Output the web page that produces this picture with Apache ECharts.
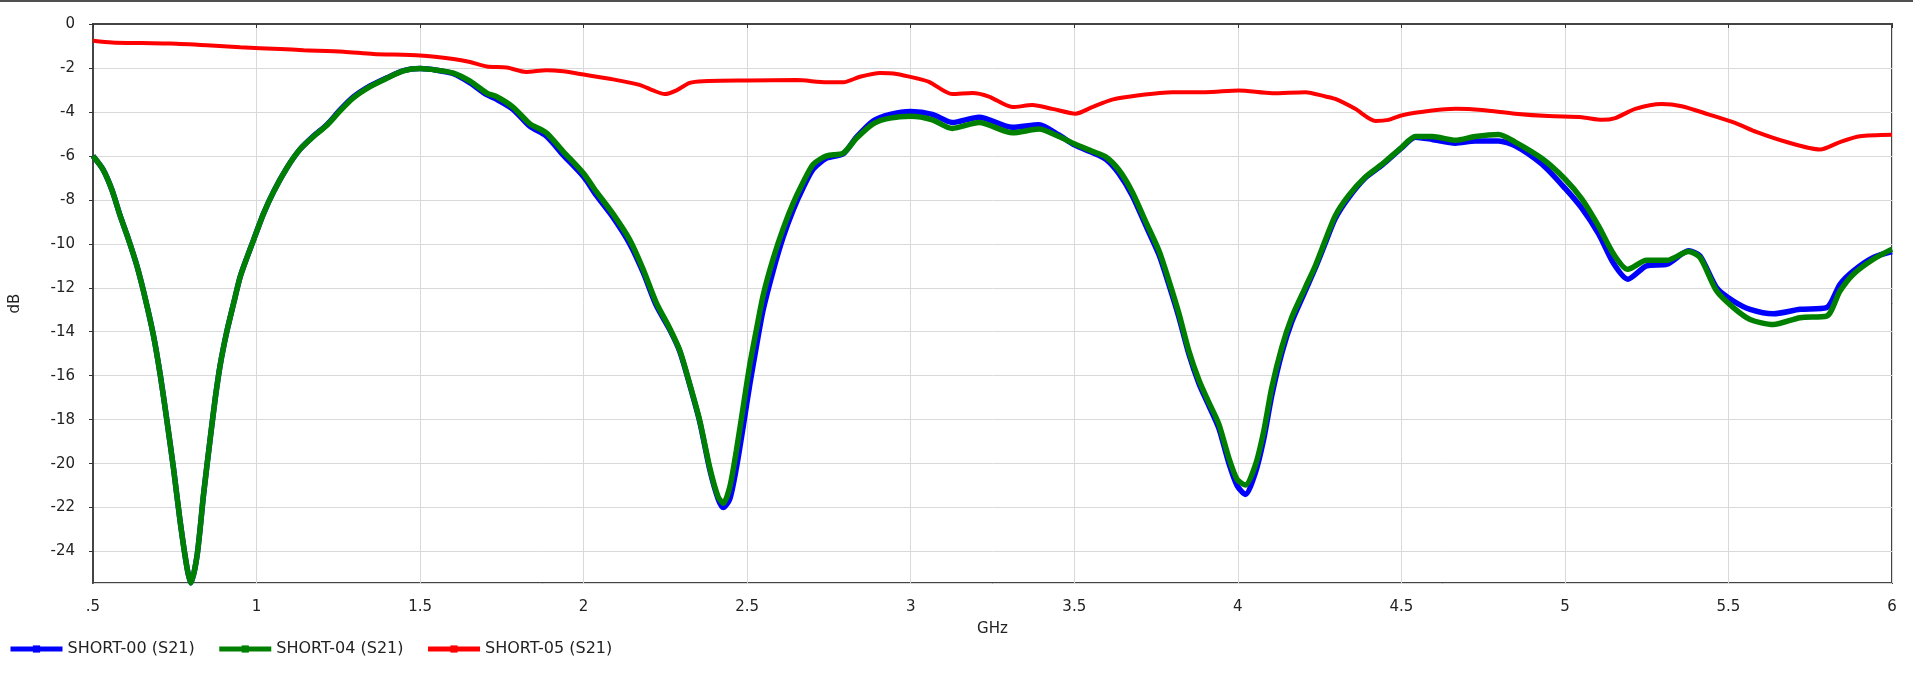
<!DOCTYPE html>
<html>
<head>
<meta charset="utf-8">
<script src="https://cdn.jsdelivr.net/npm/echarts@6/dist/echarts.min.js"></script>
<style>
html,body{margin:0;padding:0;background:#fff;}
#chart{width:1913px;height:678px;}
#topline{position:absolute;left:0;top:0;width:1913px;height:2px;background:#505050;z-index:10;}
</style>
</head>
<body>
<div id="topline"></div>
<div id="chart"></div>
<script>
// ---- data ----
const seriesNames = ['SHORT-00 (S21)', 'SHORT-04 (S21)', 'SHORT-05 (S21)'];

const freqAB = [0.500,0.530,0.558,0.583,0.609,0.634,0.660,0.685,0.706,0.726,0.746,0.767,0.787,0.799,0.818,0.838,0.858,0.874,0.889,0.909,0.930,0.950,0.970,0.991,1.021,1.052,1.093,1.133,1.174,1.215,1.256,1.296,1.347,1.398,1.449,1.500,1.551,1.602,1.653,1.704,1.733,1.784,1.835,1.886,1.937,2.000,2.039,2.090,2.141,2.182,2.222,2.263,2.294,2.324,2.355,2.386,2.411,2.427,2.447,2.467,2.488,2.508,2.529,2.549,2.580,2.610,2.641,2.671,2.702,2.743,2.794,2.834,2.886,2.937,3.000,3.066,3.127,3.209,3.311,3.392,3.453,3.500,3.555,3.596,3.636,3.677,3.718,3.759,3.789,3.820,3.850,3.881,3.911,3.942,3.972,3.998,4.023,4.054,4.079,4.104,4.135,4.165,4.206,4.237,4.268,4.298,4.339,4.390,4.441,4.500,4.543,4.594,4.665,4.726,4.797,4.848,4.930,5.000,5.052,5.103,5.149,5.192,5.250,5.312,5.378,5.413,5.464,5.515,5.566,5.637,5.719,5.800,5.841,5.882,5.943,6.000];

const short00 = [-6.0,-6.6,-7.55,-8.72,-9.82,-10.99,-12.5,-14.18,-16.0,-18.04,-20.2,-22.7,-24.7,-25.43,-24.2,-21.4,-18.9,-17.0,-15.5,-14.0,-12.7,-11.5,-10.65,-9.82,-8.64,-7.63,-6.54,-5.7,-5.1,-4.58,-3.9,-3.32,-2.82,-2.45,-2.12,-2.03,-2.1,-2.26,-2.68,-3.22,-3.42,-3.88,-4.65,-5.1,-5.95,-6.95,-7.8,-8.8,-10.0,-11.3,-12.8,-13.9,-14.9,-16.4,-18.1,-20.3,-21.6,-22.0,-21.6,-20.2,-18.3,-16.4,-14.6,-13.0,-11.2,-9.7,-8.45,-7.45,-6.6,-6.1,-5.9,-5.15,-4.4,-4.11,-3.98,-4.11,-4.48,-4.24,-4.7,-4.58,-5.05,-5.5,-5.85,-6.15,-6.8,-7.8,-9.15,-10.5,-11.85,-13.35,-15.0,-16.35,-17.35,-18.4,-19.95,-21.0,-21.4,-20.4,-18.9,-16.9,-14.95,-13.55,-12.15,-11.1,-9.95,-8.85,-7.9,-7.0,-6.42,-5.65,-5.15,-5.25,-5.42,-5.32,-5.32,-5.54,-6.38,-7.47,-8.39,-9.55,-10.9,-11.61,-11.0,-10.93,-10.32,-10.55,-12.0,-12.6,-12.98,-13.18,-12.98,-12.9,-11.84,-11.23,-10.62,-10.35];

const short04 = [-6.0,-6.6,-7.55,-8.72,-9.82,-10.99,-12.5,-14.18,-16.0,-18.04,-20.2,-22.7,-24.7,-25.43,-24.2,-21.4,-18.9,-17.0,-15.5,-14.0,-12.7,-11.5,-10.65,-9.82,-8.64,-7.63,-6.54,-5.7,-5.12,-4.61,-3.94,-3.36,-2.85,-2.47,-2.13,-2.03,-2.1,-2.23,-2.6,-3.14,-3.3,-3.78,-4.53,-4.95,-5.79,-6.8,-7.63,-8.64,-9.82,-11.16,-12.67,-13.84,-14.85,-16.36,-18.04,-20.2,-21.5,-21.8,-21.05,-19.4,-17.4,-15.5,-13.84,-12.33,-10.65,-9.31,-8.14,-7.2,-6.38,-6.0,-5.87,-5.2,-4.53,-4.28,-4.2,-4.36,-4.75,-4.48,-4.95,-4.78,-5.12,-5.45,-5.79,-6.04,-6.63,-7.63,-8.98,-10.32,-11.66,-13.17,-14.85,-16.19,-17.2,-18.2,-19.71,-20.72,-20.97,-20.05,-18.54,-16.53,-14.68,-13.34,-12.0,-11.0,-9.82,-8.72,-7.8,-6.96,-6.38,-5.62,-5.12,-5.12,-5.29,-5.12,-5.03,-5.37,-6.12,-7.05,-7.97,-9.2,-10.47,-11.16,-10.75,-10.75,-10.35,-10.62,-12.15,-12.9,-13.44,-13.67,-13.36,-13.29,-12.15,-11.38,-10.7,-10.24];

const freqC = [0.500,0.558,0.650,0.736,0.848,0.950,1.072,1.144,1.266,1.357,1.500,1.602,1.653,1.704,1.765,1.824,1.886,1.937,2.000,2.090,2.171,2.212,2.248,2.284,2.324,2.365,2.500,2.651,2.743,2.794,2.845,2.906,2.957,3.018,3.056,3.127,3.188,3.239,3.311,3.372,3.433,3.504,3.555,3.616,3.698,3.800,3.901,4.003,4.105,4.207,4.268,4.298,4.359,4.421,4.461,4.500,4.594,4.665,4.746,4.848,4.950,5.052,5.113,5.154,5.215,5.296,5.357,5.439,5.520,5.587,5.678,5.780,5.841,5.902,6.000];

const short05 = [-0.76,-0.84,-0.87,-0.89,-0.97,-1.06,-1.14,-1.19,-1.26,-1.36,-1.43,-1.59,-1.73,-1.93,-1.98,-2.18,-2.1,-2.15,-2.3,-2.52,-2.77,-3.02,-3.19,-3.02,-2.68,-2.6,-2.57,-2.55,-2.65,-2.65,-2.4,-2.23,-2.27,-2.47,-2.63,-3.19,-3.14,-3.3,-3.78,-3.69,-3.86,-4.08,-3.78,-3.44,-3.24,-3.1,-3.1,-3.02,-3.15,-3.1,-3.3,-3.41,-3.86,-4.41,-4.36,-4.16,-3.94,-3.86,-3.91,-4.08,-4.19,-4.24,-4.36,-4.28,-3.86,-3.64,-3.74,-4.11,-4.5,-4.92,-5.37,-5.71,-5.37,-5.11,-5.04];

const xMin = 0.5, xMax = 6, xStep = 0.5;
const yMin = -25.43, yMax = 0;
const xTitle = 'GHz', yTitle = 'dB';

// ---- chart ----
const pairs = (xs, ys) => xs.map((x, i) => [x, ys[i]]);
const FONT = 'DejaVu Sans';
const chart = echarts.init(document.getElementById('chart'), null, {renderer: 'canvas'});
const mk = (name, xs, ys, color, width) => ({
  name, type: 'line', data: pairs(xs, ys),
  symbol: 'rect', symbolSize: 8, showSymbol: false,
  smooth: 0.25, lineStyle: {color, width}, itemStyle: {color},
  emphasis: {disabled: true}, animation: false
});
chart.setOption({
  animation: false,
  textStyle: {fontFamily: FONT},
  grid: {left: 91, right: 21, top: 24, bottom: 95, show: true, borderColor: '#444', borderWidth: 2, backgroundColor: '#fff'},
  legend: {
    left: 8, top: 641, padding: 0, itemWidth: 52, itemHeight: 9, itemGap: 22,
    lineStyle: {width: 5},
    textStyle: {fontFamily: FONT, fontSize: 16, color: '#222'},
    data: seriesNames
  },
  xAxis: {
    type: 'value', min: xMin, max: xMax, interval: xStep,
    name: xTitle, nameLocation: 'middle', nameGap: 39,
    nameTextStyle: {fontFamily: FONT, fontSize: 15, color: '#222'},
    axisLine: {show: true, lineStyle: {color: '#444', width: 2}},
    axisTick: {show: true, length: 4, lineStyle: {color: '#333'}},
    axisLabel: {margin: 17, fontFamily: FONT, fontSize: 15, color: '#222',
      formatter: v => String(v).replace(/^0\./, '.')},
    splitLine: {show: true, lineStyle: {color: '#d9d9d9', width: 1}}
  },
  yAxis: {
    type: 'value', min: yMin, max: yMax, splitNumber: 13,
    name: yTitle, nameLocation: 'middle', nameGap: 70, nameRotate: 90,
    nameTextStyle: {fontFamily: FONT, fontSize: 15, color: '#222'},
    axisLine: {show: true, lineStyle: {color: '#444', width: 2}},
    axisTick: {show: true, length: 4, lineStyle: {color: '#333'}},
    axisLabel: {margin: 18, fontFamily: FONT, fontSize: 15, color: '#222', showMinLabel: false},
    splitLine: {show: true, lineStyle: {color: '#d9d9d9', width: 1}}
  },
  series: [
    mk(seriesNames[0], freqAB, short00, '#0000ff', 5.5),
    mk(seriesNames[1], freqAB, short04, '#008000', 5.5),
    mk(seriesNames[2], freqC, short05, '#ff0000', 4)
  ]
});
</script>
</body>
</html>
